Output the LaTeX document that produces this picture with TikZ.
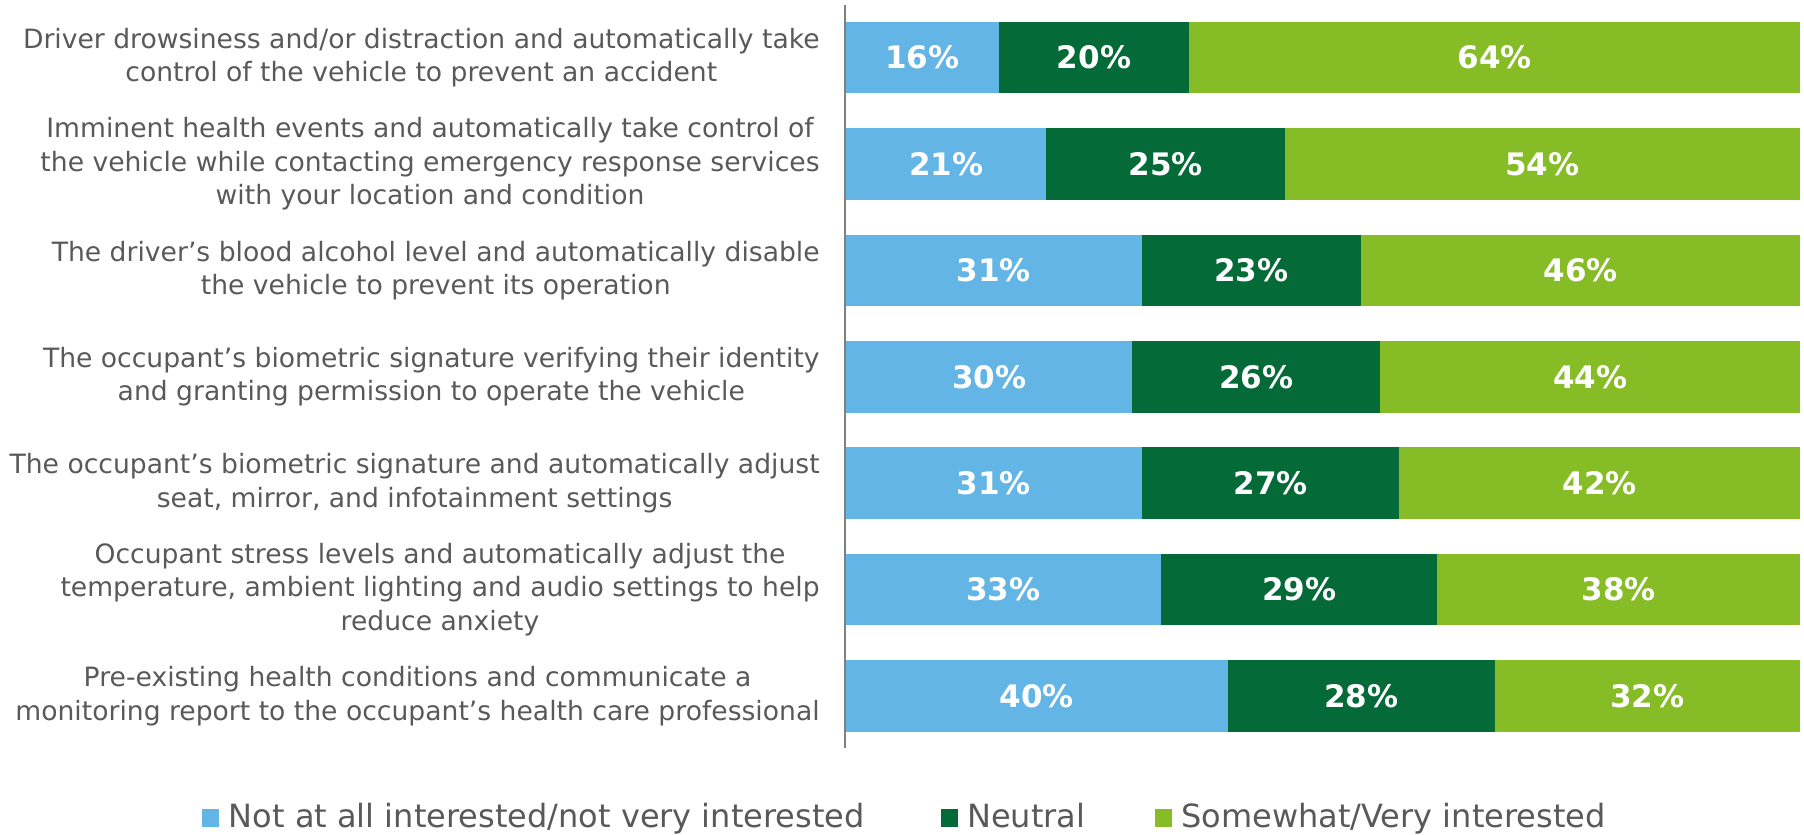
\documentclass[tikz,border=0pt]{standalone}
\usepackage{fontspec}
\setmainfont{DejaVu Sans}
\usetikzlibrary{positioning}
\definecolor{lowblue}{HTML}{62B5E5}
\definecolor{midgreen}{HTML}{046A38}
\definecolor{highgreen}{HTML}{86BC25}
\definecolor{labelgray}{HTML}{595959}

\begin{document}
\begin{tikzpicture}[
    node distance=0pt and 0pt,
    seg/.style={rectangle, minimum height=35.75pt, inner sep=0pt, outer sep=0pt, text=white, font=\fontsize{15.5}{18}\selectfont\bfseries},
    notint/.style={seg, fill=lowblue},
    neutral/.style={seg, fill=midgreen},
    interest/.style={seg, fill=highgreen},
    question/.style={align=center, text=labelgray, inner sep=0pt, font=\fontsize{13.3}{16.7}\selectfont},
    key/.style={rectangle, minimum width=8.5pt, minimum height=9pt, inner sep=0pt},
    keytext/.style={text=labelgray, inner sep=0pt, text height=12pt, text depth=3pt, font=\fontsize{16}{19}\selectfont},
    axis/.style={draw=gray, line width=0.75pt}
    ]
    \useasboundingbox (0,0) rectangle (902pt,-417.5pt);

    % Bars
    \node (no1) [notint, minimum width=16*4.77pt, anchor=west] at (423pt,-28.8pt) {16\%};
    \node (mid1) [neutral, minimum width=20*4.77pt, right=of no1] {20\%};
    \node (yes1) [interest, minimum width=64*4.77pt, right=of mid1] {64\%};

    \node (no2) [notint, minimum width=21*4.77pt, anchor=west] at (423pt,-82pt) {21\%};
    \node (mid2) [neutral, minimum width=25*4.77pt, right=of no2] {25\%};
    \node (yes2) [interest, minimum width=54*4.77pt, right=of mid2] {54\%};

    \node (no3) [notint, minimum width=31*4.77pt, anchor=west] at (423pt,-135.2pt) {31\%};
    \node (mid3) [neutral, minimum width=23*4.77pt, right=of no3] {23\%};
    \node (yes3) [interest, minimum width=46*4.77pt, right=of mid3] {46\%};

    \node (no4) [notint, minimum width=30*4.77pt, anchor=west] at (423pt,-188.4pt) {30\%};
    \node (mid4) [neutral, minimum width=26*4.77pt, right=of no4] {26\%};
    \node (yes4) [interest, minimum width=44*4.77pt, right=of mid4] {44\%};

    \node (no5) [notint, minimum width=31*4.77pt, anchor=west] at (423pt,-241.6pt) {31\%};
    \node (mid5) [neutral, minimum width=27*4.77pt, right=of no5] {27\%};
    \node (yes5) [interest, minimum width=42*4.77pt, right=of mid5] {42\%};

    \node (no6) [notint, minimum width=33*4.77pt, anchor=west] at (423pt,-294.8pt) {33\%};
    \node (mid6) [neutral, minimum width=29*4.77pt, right=of no6] {29\%};
    \node (yes6) [interest, minimum width=38*4.77pt, right=of mid6] {38\%};

    \node (no7) [notint, minimum width=40*4.77pt, anchor=west] at (423pt,-348pt) {40\%};
    \node (mid7) [neutral, minimum width=28*4.77pt, right=of no7] {28\%};
    \node (yes7) [interest, minimum width=32*4.77pt, right=of mid7] {32\%};

    % Questions
    \node (q1) [question, left=13pt of no1] {Driver drowsiness and/or distraction and automatically take\\control of the vehicle to prevent an accident};
    \node (q2) [question, left=13pt of no2] {Imminent health events and automatically take control of\\the vehicle while contacting emergency response services\\with your location and condition};
    \node (q3) [question, left=13pt of no3] {The driver’s blood alcohol level and automatically disable\\the vehicle to prevent its operation};
    \node (q4) [question, left=13pt of no4] {The occupant’s biometric signature verifying their identity\\and granting permission to operate the vehicle};
    \node (q5) [question, left=13pt of no5] {The occupant’s biometric signature and automatically adjust\\seat, mirror, and infotainment settings};
    \node (q6) [question, left=13pt of no6] {Occupant stress levels and automatically adjust the\\temperature, ambient lighting and audio settings to help\\reduce anxiety};
    \node (q7) [question, left=13pt of no7] {Pre-existing health conditions and communicate a\\monitoring report to the occupant’s health care professional};

    % Axis
    \coordinate (axtop) at (422.5pt,-2.5pt);
    \coordinate (axbot) at (422.5pt,-374pt);
    \draw [axis] (axtop) -- (axbot);

    % Legend
    \node (key1) [key, fill=lowblue] at (105.25pt,-409pt) {};
    \node (keytxt1) [keytext, right=4.5pt of key1] {Not at all interested/not very interested};
    \node (key2) [key, fill=midgreen] at (474.5pt,-409pt) {};
    \node (keytxt2) [keytext, right=4.5pt of key2] {Neutral};
    \node (key3) [key, fill=highgreen] at (581.5pt,-409pt) {};
    \node (keytxt3) [keytext, right=4.5pt of key3] {Somewhat/Very interested};

\end{tikzpicture}
\end{document}
